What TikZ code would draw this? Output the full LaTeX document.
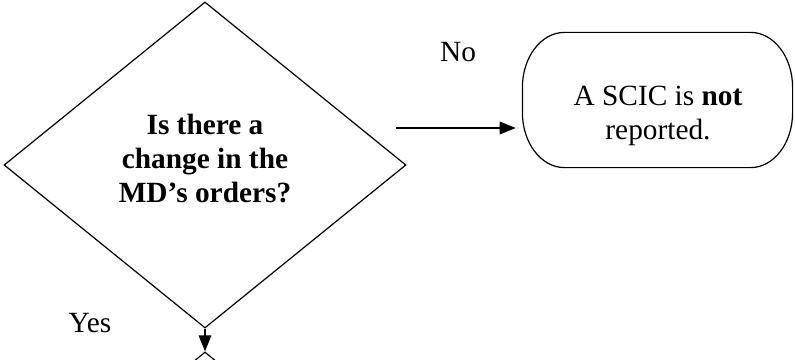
\documentclass[tikz,border=0pt]{standalone}
\usepackage{fontspec}
\setmainfont{Liberation Serif}
\usetikzlibrary{shapes.geometric,arrows.meta}
\begin{document}
\begin{tikzpicture}[x=0.75pt,y=-0.75pt,
  line width=0.9pt,
  txt/.style={font=\fontsize{22}{25.5}\selectfont, inner sep=0pt},
  dia/.style={diamond, draw, inner sep=0pt, minimum width=301.5pt, minimum height=244.5pt},
  arr/.style={-{Triangle[length=12pt,width=9.5pt]}},
  lbl/.style={txt, anchor=base}]
\useasboundingbox (0,0) rectangle (795,360);
\clip (0,0) rectangle (795,360);
% decision
\node[dia] (d) at (205,165) {};
\node[txt, align=center, font=\fontsize{22}{25.5}\selectfont\bfseries] (q) at (205,158.5) {Is there a\\change in the\\MD’s orders?};
% next decision (cut off)
\node[dia] (d2) at (205,515) {};
% terminal box
\node[minimum width=201.75pt, minimum height=100.5pt, inner sep=0pt] (b) at (657.5,100) {};
\draw ([xshift=31.5pt]b.north west) -- ([xshift=-31.5pt]b.north east)
  arc[start angle=90,end angle=0,x radius=31.5pt,y radius=41.25pt]
  -- ([yshift=41.25pt]b.south east)
  arc[start angle=0,end angle=-90,x radius=31.5pt,y radius=41.25pt]
  -- ([xshift=31.5pt]b.south west)
  arc[start angle=270,end angle=180,x radius=31.5pt,y radius=41.25pt]
  -- ([yshift=-41.25pt]b.north west)
  arc[start angle=180,end angle=90,x radius=31.5pt,y radius=41.25pt]
  -- cycle;
\node[txt, align=center] (t) at (658,115.5) {A SCIC is \textbf{not}\\reported.};
% connectors
\coordinate (a1) at (396,128);
\draw[arr, shorten >=5pt] (a1) -- (b.west |- a1);
\draw[arr] (d.south) -- (d2.north);
% labels
\node[lbl] (no) at (458,62) {No};
\node[lbl] (yes) at (90,332) {Yes};
\end{tikzpicture}
\end{document}
